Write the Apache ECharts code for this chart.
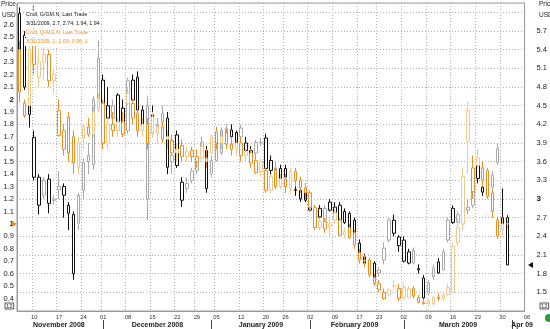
<!DOCTYPE html>
<html><head><meta charset="utf-8">
<script src="https://cdn.jsdelivr.net/npm/echarts@6/dist/echarts.min.js"></script>
<style>html,body{margin:0;padding:0;background:#fff}#c{width:550px;height:329px}</style>
</head><body><div id="c"></div>
<script>
// trading days (MM/DD) from 2008-11-05 to 2009-04-03
const categories = [
'11/05','11/06','11/07','11/10','11/11','11/12','11/13','11/14','11/17','11/18','11/19','11/20','11/21','11/24','11/25','11/26','11/28',
'12/01','12/02','12/03','12/04','12/05','12/08','12/09','12/10','12/11','12/12','12/15','12/16','12/17','12/18','12/19','12/22','12/23','12/24','12/26','12/29','12/30','12/31',
'01/02','01/05','01/06','01/07','01/08','01/09','01/12','01/13','01/14','01/15','01/16','01/20','01/21','01/22','01/23','01/26','01/27','01/28','01/29','01/30',
'02/02','02/03','02/04','02/05','02/06','02/09','02/10','02/11','02/12','02/13','02/17','02/18','02/19','02/20','02/23','02/24','02/25','02/26','02/27',
'03/02','03/03','03/04','03/05','03/06','03/09','03/10','03/11','03/12','03/13','03/16','03/17','03/18','03/19','03/20','03/23','03/24','03/25','03/26','03/27','03/30','03/31',
'04/01','04/02','04/03'];
const weekStarts = ['11/10','11/17','11/24','12/01','12/08','12/15','12/22','12/29','01/05','01/12','01/20','01/26','02/02','02/09','02/17','02/23','03/02','03/09','03/16','03/23','03/30'];
const extraTickLabel = '06';
const monthStarts = ['12/01','01/02','02/02','03/02','04/01'];
const monthNames = ['November 2008','December 2008','January 2009','February 2009','March 2009','Apr 09'];
const monthLabelAt = ['11/17','12/16','01/16','02/13','03/17','04/03'];

// G/GM.N  [open, high, low, close]  (right axis)
const gmOHLC = [
[5.98,6.08,4.95,5.0],[5.63,5.7,4.75,4.8],[4.9,4.95,4.15,4.36],[3.99,4.1,3.3,3.35],[3.35,3.4,2.75,2.9],
[3.3,3.35,3.0,3.06],[3.32,3.4,2.77,2.93],[3.0,3.06,2.92,2.98],[3.2,3.45,3.0,3.15],[3.2,3.25,2.7,3.06],
[2.9,2.95,2.5,2.77],[1.8,2.8,1.7,2.75],[2.61,3.1,2.5,3.06],[3.14,3.65,3.0,3.59],[3.6,3.9,3.4,3.7],
[3.55,4.65,3.47,4.6],[4.62,5.55,4.55,5.26],
[4.91,5.0,4.4,4.5],[4.5,4.8,4.2,4.3],[4.3,4.6,4.2,4.5],[4.67,4.7,4.1,4.15],[4.46,4.6,4.0,4.06],
[4.1,4.95,4.05,4.9],[4.91,5.0,4.5,4.59],[4.96,5.05,4.4,4.43],[4.43,4.5,4.15,4.19],[3.0,4.65,2.66,4.5],
[4.35,4.5,4.0,4.06],[4.06,4.3,4.0,4.2],[4.23,4.5,4.1,4.38],[4.3,4.4,3.4,3.51],[3.6,3.85,3.4,3.7],
[4.03,4.1,3.5,3.54],[3.27,3.35,2.87,2.98],[3.17,3.35,3.1,3.25],[3.3,3.5,3.25,3.45],[3.67,3.75,3.4,3.46],
[3.91,4.0,3.7,3.78],[3.78,3.85,3.1,3.17],
[3.41,3.7,3.35,3.62],[3.62,4.0,3.6,3.95],[3.74,4.15,3.7,4.11],[4.0,4.2,3.95,4.14],[4.11,4.2,3.95,4.0],
[4.07,4.1,3.8,3.83],[4.0,4.2,3.9,4.14],[3.9,4.0,3.7,3.78],[3.78,3.85,3.6,3.7],[3.74,3.95,3.6,3.91],
[3.9,3.98,3.85,3.91],[3.98,4.05,3.45,3.49],[3.62,3.7,3.4,3.46],[3.46,3.6,3.35,3.5],[3.33,3.55,3.3,3.49],
[3.49,3.55,3.3,3.35],[3.4,3.45,3.25,3.3],[3.15,3.3,3.05,3.14],[3.14,3.2,2.95,3.0],[3.14,3.2,2.95,2.98],
[2.98,3.05,2.8,2.82],[2.82,2.9,2.7,2.75],[2.85,2.9,2.65,2.71],[2.66,2.9,2.6,2.85],[2.95,3.0,2.8,2.82],
[2.87,2.95,2.75,2.77],[2.9,2.95,2.6,2.66],[2.8,2.85,2.6,2.62],[2.77,2.8,2.5,2.53],[2.66,2.7,2.4,2.45],
[2.29,2.35,2.05,2.07],[2.07,2.12,1.95,1.97],[1.97,2.05,1.85,1.9],[1.97,2.0,1.65,1.65],[1.86,1.9,1.75,1.81],
[2.02,2.3,1.95,2.21],[2.34,2.7,2.3,2.66],[2.66,2.75,2.4,2.45],[2.25,2.42,2.15,2.39],
[2.34,2.4,1.98,2.0],[2.15,2.2,1.95,1.97],[1.97,2.22,1.95,2.18],[1.88,1.95,1.8,1.86],[1.73,1.78,1.35,1.41],
[1.49,1.7,1.45,1.66],[1.75,1.95,1.7,1.89],[1.99,2.05,1.8,1.81],[1.86,2.2,1.85,2.15],[2.34,2.7,2.3,2.66],
[2.85,2.9,2.6,2.62],[2.62,2.8,2.55,2.75],[2.6,2.9,2.55,2.85],[2.82,3.0,2.75,2.87],[2.9,3.5,2.85,3.45],
[3.54,3.6,3.25,3.33],[3.19,3.3,3.05,3.11],[3.1,3.3,3.0,3.2],[3.19,3.45,3.15,3.38],[3.81,3.9,3.55,3.59],
[2.55,3.17,2.5,2.7],[2.7,2.74,1.94,1.94]];

// Q/AIG.N  [open, high, low, close]  (left axis)
const aigOHLC = [
[2.4,2.47,1.98,2.06],[1.97,2.0,1.85,1.87],[1.95,2.45,1.9,2.4],[2.44,2.76,2.2,2.28],[2.18,2.4,2.1,2.3],
[2.3,2.42,2.15,2.36],[2.36,2.4,2.1,2.15],[2.15,2.25,2.05,2.2],[1.91,2.0,1.7,1.71],[1.75,1.8,1.55,1.6],
[1.86,1.9,1.5,1.57],[1.7,1.75,1.4,1.49],[1.45,1.7,1.4,1.65],[1.69,1.8,1.6,1.78],[1.78,1.85,1.7,1.72],
[1.72,1.95,1.7,1.9],[1.92,2.05,1.9,2.0],
[1.97,2.0,1.6,1.65],[1.65,1.85,1.6,1.8],[1.8,1.9,1.7,1.75],[1.75,1.85,1.7,1.82],[1.82,1.9,1.7,1.72],
[2.05,2.1,1.95,1.97],[1.97,2.0,1.8,1.85],[1.89,1.92,1.7,1.75],[1.75,1.85,1.7,1.8],[1.8,1.85,1.6,1.65],
[1.86,1.9,1.7,1.73],[1.73,1.8,1.65,1.78],[1.78,1.82,1.65,1.68],[1.68,1.75,1.6,1.7],[1.67,1.72,1.55,1.57],
[1.57,1.65,1.5,1.6],[1.63,1.68,1.5,1.54],[1.54,1.62,1.5,1.58],[1.59,1.62,1.5,1.54],[1.54,1.6,1.45,1.5],
[1.62,1.65,1.5,1.53],[1.53,1.6,1.45,1.5],
[1.57,1.72,1.55,1.7],[1.74,1.78,1.6,1.65],[1.65,1.75,1.6,1.7],[1.73,1.76,1.6,1.64],[1.64,1.7,1.55,1.6],
[1.6,1.68,1.55,1.65],[1.65,1.7,1.5,1.55],[1.55,1.6,1.5,1.58],[1.57,1.6,1.45,1.49],[1.51,1.55,1.4,1.41],
[1.5,1.52,1.38,1.42],[1.43,1.45,1.25,1.27],[1.27,1.4,1.25,1.38],[1.43,1.45,1.28,1.3],[1.3,1.4,1.28,1.36],
[1.36,1.4,1.25,1.3],[1.29,1.45,1.25,1.42],[1.42,1.45,1.3,1.35],[1.35,1.38,1.25,1.29],[1.29,1.33,1.2,1.25],
[1.25,1.27,1.1,1.13],[1.13,1.15,0.95,0.97],[0.97,1.05,0.95,1.02],[1.02,1.05,0.93,0.96],[0.98,1.05,0.9,1.0],
[1.09,1.12,1.0,1.03],[1.03,1.05,0.9,0.91],[0.91,0.97,0.88,0.94],[0.97,1.0,0.88,0.89],[0.93,0.95,0.8,0.83],
[0.77,0.8,0.68,0.71],[0.71,0.75,0.65,0.7],[0.71,0.73,0.57,0.59],[0.57,0.6,0.5,0.52],[0.52,0.55,0.45,0.47],
[0.45,0.48,0.39,0.4],[0.43,0.48,0.42,0.47],[0.5,0.55,0.48,0.5],[0.48,0.52,0.38,0.4],
[0.49,0.53,0.39,0.41],[0.41,0.5,0.4,0.48],[0.48,0.5,0.4,0.42],[0.41,0.43,0.36,0.37],[0.37,0.4,0.35,0.36],
[0.36,0.4,0.34,0.38],[0.36,0.42,0.34,0.41],[0.41,0.44,0.38,0.4],[0.4,0.45,0.38,0.43],[0.43,0.52,0.42,0.49],
[0.45,0.85,0.44,0.82],[0.85,1.05,0.82,0.97],[1.0,1.45,0.95,1.38],[1.91,1.98,1.4,1.66],[1.45,1.55,1.2,1.26],
[1.53,1.6,1.45,1.47],[1.45,1.5,1.3,1.35],[1.43,1.45,1.2,1.22],[1.25,1.28,1.05,1.1],[1.03,1.06,0.88,0.9],
[0.95,1.05,0.9,1.0],[1.0,1.03,0.96,1.0]];

const gmLegend = ['Cndl, G/GM.N, Last Trade', '3/31/2009, 2.7, 2.74, 1.94, 1.94'];
const aigLegend = ['Cndl, Q/AIG.N, Last Trade', '3/31/2009, 1, 1.03, 0.96, 1'];

const GM_DARK = '#111111', GM_LIGHT = '#a9a9a9';
const AIG_DARK = '#ee8e22', AIG_LIGHT = '#f3c888';
const FONT = 'Liberation Sans, Arial, sans-serif';

function toItems(rows, dark, light) {
  return rows.map((r, i) => {
    const [o, h, l, c] = r;
    const prev = i > 0 ? rows[i - 1][3] : null;
    const col = (prev === null || c < prev) ? dark : light;
    return {
      value: [o, c, l, h],
      itemStyle: { color: '#ffffff', color0: col, borderColor: col, borderColor0: col, borderWidth: 1 }
    };
  });
}

function fmtY(v) {
  const r = Math.round(v * 10) / 10;
  if (Math.abs(r - Math.round(r)) < 1e-9) return '{b|' + Math.round(r) + '}';
  return r.toFixed(1);
}

const chart = echarts.init(document.getElementById('c'), null, { renderer: 'canvas' });
const GRID = { left: 17, right: 22, top: 3, bottom: 18 };

chart.setOption({
  animation: false,
  backgroundColor: '#ffffff',
  grid: Object.assign({ show: true, borderColor: '#9a9a9a', borderWidth: 1, backgroundColor: 'transparent' }, GRID),
  xAxis: [{
    type: 'category', data: categories, boundaryGap: true,
    axisLine: { lineStyle: { color: '#9a9a9a' } },
    axisTick: { show: false },
    axisLabel: { interval: (i, v) => weekStarts.includes(v), formatter: v => v.slice(3), fontSize: 5.8, color: '#333', margin: 3, fontFamily: FONT },
    splitLine: { show: true, interval: (i, v) => weekStarts.includes(v), lineStyle: { color: '#b4b4b4', type: [1, 2], width: 1 } }
  }, {
    type: 'category', data: categories, boundaryGap: true, position: 'bottom', offset: 9,
    axisLine: { show: false },
    axisTick: { show: true, alignWithLabel: true, interval: (i, v) => monthStarts.includes(v), length: 10, lineStyle: { color: '#444' } },
    axisLabel: { interval: (i, v) => monthLabelAt.includes(v), formatter: v => monthNames[monthLabelAt.indexOf(v)], fontSize: 7, fontWeight: 'bold', color: '#222', margin: 2, fontFamily: FONT },
    splitLine: { show: false }
  }],
  yAxis: [{
    type: 'value', position: 'left', min: 0.3, max: 2.775, interval: 0.1,
    axisLine: { show: true, lineStyle: { color: '#9a9a9a' } }, axisTick: { show: false },
    splitLine: { show: false },
    axisLabel: { showMinLabel: false, showMaxLabel: false, margin: 3, fontSize: 7.5, color: '#222', fontFamily: FONT,
      formatter: v => (v > 2.65 ? '' : fmtY(v)), rich: { b: { fontWeight: 'bold', fontSize: 8, color: '#111', fontFamily: FONT } } }
  }, {
    type: 'value', position: 'right', min: 1.2, max: 6.15, interval: 0.3,
    axisLine: { show: true, lineStyle: { color: '#9a9a9a' } }, axisTick: { show: false },
    splitLine: { show: true, lineStyle: { color: '#b4b4b4', type: [1, 2], width: 1 } },
    axisLabel: { showMinLabel: false, showMaxLabel: false, margin: 12, fontSize: 7.5, color: '#222', fontFamily: FONT,
      formatter: v => (v > 5.9 ? '' : fmtY(v)), rich: { b: { fontWeight: 'bold', fontSize: 8, color: '#111', fontFamily: FONT } } }
  }],
  series: [{
    name: 'G/GM.N', type: 'candlestick', xAxisIndex: 0, yAxisIndex: 1, barWidth: 3,
    data: toItems(gmOHLC, GM_DARK, GM_LIGHT)
  }, {
    name: 'Q/AIG.N', type: 'candlestick', xAxisIndex: 0, yAxisIndex: 0, barWidth: 3,
    data: toItems(aigOHLC, AIG_DARK, AIG_LIGHT)
  }]
});

// overlay texts & markers
const lastIdx = gmOHLC.length - 1;
const catW = chart.convertToPixel({ xAxisIndex: 0 }, categories[1]) - chart.convertToPixel({ xAxisIndex: 0 }, categories[0]);
const xLastCat = chart.convertToPixel({ xAxisIndex: 0 }, categories[categories.length - 1]);
const gmLastY = chart.convertToPixel({ yAxisIndex: 1 }, gmOHLC[lastIdx][3]);
const aigLastY = chart.convertToPixel({ yAxisIndex: 0 }, aigOHLC[lastIdx][3]);
const bottomY = chart.getHeight() - GRID.bottom;
const rightX = chart.getWidth() - GRID.right;

const txt = (x, y, s, fill, size, extra) => ({ type: 'text', x: x, y: y, z: 100, style: Object.assign({ text: s, fill: fill, fontSize: size, fontFamily: FONT }, extra || {}) });
const legBg = { backgroundColor: '#fff', padding: [1.5, 1] };

chart.setOption({
  graphic: [
    txt(25, 11, gmLegend[0], '#111', 5.3, legBg),
    txt(25, 20, gmLegend[1], '#111', 5.3, legBg),
    txt(25, 29, aigLegend[0], AIG_DARK, 5.3, legBg),
    txt(25, 38, aigLegend[1], AIG_DARK, 5.3, legBg),
    txt(1, 1, 'Price', '#222', 6.5),
    txt(2, 12, 'USD', '#222', 6.5),
    txt(539, 1, 'Price', '#222', 6.5),
    txt(539, 12, 'USD', '#222', 6.5),
    txt(xLastCat + catW, bottomY + 3, extraTickLabel, '#333', 5.8, { align: 'center' }),
    txt(5, bottomY - 8, '12', '#333', 6, { borderColor: '#555', borderWidth: 1, padding: [0, 1] }),
    txt(540, bottomY - 8, '12', '#333', 6, { borderColor: '#555', borderWidth: 1, padding: [0, 1] }),
    { type: 'polygon', z: 100, shape: { points: [[12, aigLastY - 3], [17, aigLastY], [12, aigLastY + 3]] }, style: { fill: AIG_DARK } },
    { type: 'polygon', z: 100, shape: { points: [[rightX + 5, gmLastY - 3], [rightX, gmLastY], [rightX + 5, gmLastY + 3]] }, style: { fill: '#111' } },
    { type: 'circle', z: 100, shape: { cx: 549, cy: 318, r: 4 }, style: { fill: '#2f9b3a' } }
  ]
});
</script></body></html>
